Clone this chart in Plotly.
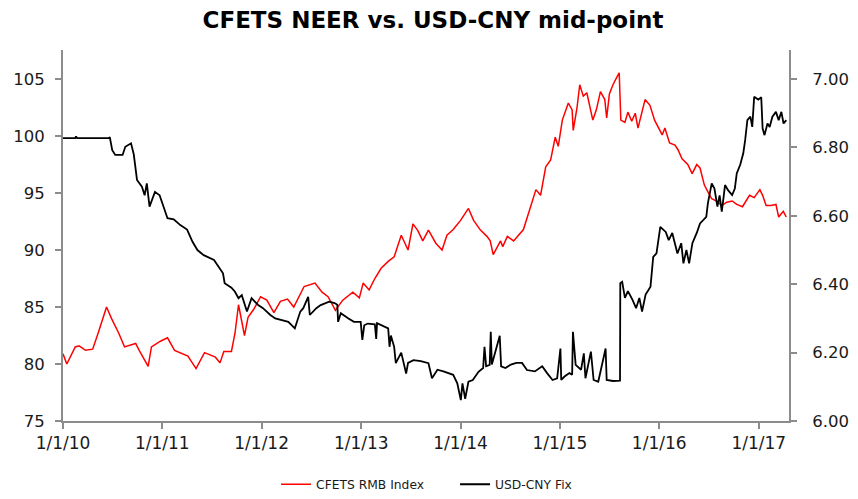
import plotly.graph_objects as go

# CFETS RMB Index (left axis)
cfets_dates = [
    "2010-01-01","2010-01-15","2010-02-15","2010-03-01","2010-03-25","2010-04-20","2010-05-10","2010-06-10",
    "2010-06-28","2010-07-25","2010-08-15","2010-09-25","2010-10-08","2010-11-10","2010-11-22","2010-12-25",
    "2011-01-20","2011-02-15","2011-04-05","2011-05-05","2011-06-05","2011-07-15","2011-08-01","2011-08-15",
    "2011-09-12","2011-09-25","2011-10-08","2011-10-30","2011-11-12","2011-12-03","2011-12-28","2012-01-20",
    "2012-02-15","2012-03-10","2012-04-05","2012-04-28","2012-06-05","2012-07-15","2012-08-10","2012-09-01",
    "2012-09-15","2012-09-28","2012-10-25","2012-12-01","2012-12-25","2013-01-08","2013-01-30","2013-02-20",
    "2013-03-15","2013-04-10","2013-05-02","2013-05-28","2013-06-22","2013-07-10","2013-07-28","2013-08-15",
    "2013-09-05","2013-10-02","2013-10-25","2013-11-12","2013-12-05","2014-01-01","2014-01-30","2014-02-18",
    "2014-03-15","2014-04-08","2014-04-20","2014-05-01","2014-05-28","2014-06-05","2014-06-22","2014-07-15",
    "2014-08-20","2014-09-10","2014-10-05","2014-10-22","2014-11-10","2014-11-28","2014-12-15","2014-12-26",
    "2015-01-10","2015-02-01","2015-02-15","2015-02-19","2015-03-05","2015-03-15","2015-03-28","2015-04-10",
    "2015-04-22","2015-05-02","2015-05-15","2015-05-30","2015-06-15","2015-06-22","2015-07-02","2015-07-15",
    "2015-07-28","2015-08-07","2015-08-13","2015-08-28","2015-09-08","2015-09-22","2015-10-05","2015-10-15",
    "2015-11-10","2015-11-28","2015-12-15","2016-01-12","2016-01-22","2016-02-08","2016-02-28","2016-03-10",
    "2016-03-25","2016-04-15","2016-05-01","2016-05-18","2016-05-30","2016-06-15","2016-06-28","2016-07-12",
    "2016-07-30","2016-08-18","2016-09-05","2016-09-25","2016-10-12","2016-11-02","2016-11-28","2016-12-15",
    "2017-01-05","2017-01-15","2017-01-28","2017-02-15","2017-03-05","2017-03-15","2017-04-01","2017-04-12",
]
cfets_values = [
    80.9, 80.0, 81.5, 81.6, 81.2, 81.3, 82.7, 85.0,
    84.0, 82.7, 81.5, 81.8, 81.2, 79.8, 81.5, 82.0,
    82.3, 81.2, 80.7, 79.6, 81.0, 80.6, 80.1, 81.1,
    81.1, 82.7, 85.2, 82.5, 84.1, 84.8, 85.9, 85.6,
    84.5, 85.5, 85.7, 85.0, 86.8, 87.1, 86.3, 85.9,
    85.3, 84.7, 85.6, 86.3, 85.8, 87.1, 86.5, 87.5,
    88.4, 89.0, 89.4, 91.3, 90.0, 92.3, 91.7, 90.8,
    91.75, 90.6, 90.0, 91.3, 91.8, 92.6, 93.65, 92.6,
    91.75, 91.2, 90.8, 89.6, 90.8, 90.3, 91.2, 90.8,
    91.8, 93.5, 95.3, 94.8, 97.3, 97.9, 99.9, 99.1,
    101.4, 102.9, 102.3, 100.5, 102.5, 104.5, 103.5, 103.8,
    102.6, 101.4, 102.3, 103.9, 103.2, 101.6, 103.7, 104.5,
    105.1, 105.55, 101.4, 101.2, 102.1, 101.3, 102.0, 100.7,
    103.2, 102.7, 101.4, 100.1, 100.7, 99.4, 99.2, 98.8,
    98.0, 97.5, 96.7, 97.5, 97.2, 95.7, 95.1, 94.5,
    94.3, 93.9, 94.2, 94.3, 94.0, 93.8, 94.8, 94.6,
    95.3, 94.8, 93.9, 93.9, 94.0, 92.9, 93.4, 92.9,
]

# USD-CNY fixing (right axis)
fix_dates = [
    "2010-01-01","2010-02-15","2010-02-18","2010-02-22","2010-06-18","2010-06-22","2010-07-01","2010-07-12",
    "2010-08-08","2010-08-18","2010-09-08","2010-09-18","2010-09-30","2010-10-18","2010-10-28","2010-11-05",
    "2010-11-15","2010-12-05","2010-12-22","2011-01-05","2011-01-20","2011-02-12","2011-03-08","2011-04-02",
    "2011-04-22","2011-05-10","2011-06-02","2011-07-10","2011-08-12","2011-08-18","2011-09-12","2011-09-25",
    "2011-10-08","2011-10-20","2011-11-08","2011-11-25","2011-12-18","2012-01-06","2012-02-02","2012-02-20",
    "2012-03-20","2012-04-08","2012-05-02","2012-05-22","2012-06-02","2012-06-20","2012-06-26","2012-07-20",
    "2012-08-05","2012-09-05","2012-09-25","2012-10-05","2012-10-08","2012-10-18","2012-11-15","2012-12-05",
    "2012-12-30","2013-01-05","2013-01-12","2013-01-25","2013-02-20","2013-02-25","2013-02-28","2013-03-15",
    "2013-04-10","2013-04-15","2013-04-20","2013-05-02","2013-05-08","2013-05-28","2013-06-15","2013-06-22",
    "2013-07-12","2013-08-08","2013-09-05","2013-09-18","2013-10-08","2013-10-30","2013-12-05","2013-12-20",
    "2014-01-02","2014-01-08","2014-01-18","2014-01-30","2014-02-15","2014-03-08","2014-03-25","2014-03-30",
    "2014-04-05","2014-04-18","2014-04-22","2014-04-26","2014-05-25","2014-05-30","2014-06-15","2014-07-05",
    "2014-07-25","2014-08-15","2014-09-02","2014-10-01","2014-10-28","2014-11-15","2014-12-05","2014-12-22",
    "2015-01-03","2015-01-06","2015-01-18","2015-02-05","2015-02-15","2015-02-18","2015-02-28","2015-03-20",
    "2015-03-30","2015-04-05","2015-04-25","2015-05-05","2015-05-22","2015-06-18","2015-06-22","2015-07-15",
    "2015-08-10","2015-08-11","2015-08-18","2015-08-28","2015-09-08","2015-09-25","2015-10-08","2015-10-20",
    "2015-10-30","2015-11-12","2015-11-30","2015-12-10","2015-12-22","2016-01-05","2016-01-25","2016-02-05",
    "2016-02-18","2016-03-08","2016-03-22","2016-03-30","2016-04-10","2016-04-20","2016-05-02","2016-05-18",
    "2016-05-30","2016-06-22","2016-06-28","2016-07-12","2016-07-22","2016-08-02","2016-08-10","2016-08-18",
    "2016-08-30","2016-09-10","2016-09-25","2016-10-05","2016-10-12","2016-10-25","2016-11-05","2016-11-12",
    "2016-11-20","2016-12-01","2016-12-08","2016-12-15","2016-12-30","2017-01-10","2017-01-15","2017-01-22",
    "2017-02-02","2017-02-10","2017-02-20","2017-03-05","2017-03-15","2017-03-25","2017-04-02","2017-04-12",
]
fix_values = [
    6.827, 6.827, 6.832, 6.827, 6.827, 6.830, 6.792, 6.778,
    6.778, 6.802, 6.812, 6.780, 6.705, 6.685, 6.660, 6.695,
    6.627, 6.670, 6.660, 6.627, 6.593, 6.590, 6.573, 6.560,
    6.524, 6.500, 6.485, 6.471, 6.432, 6.403, 6.390, 6.378,
    6.359, 6.368, 6.320, 6.359, 6.340, 6.330, 6.310, 6.300,
    6.293, 6.290, 6.271, 6.320, 6.330, 6.363, 6.310, 6.330,
    6.339, 6.349, 6.345, 6.340, 6.290, 6.315, 6.300, 6.290,
    6.290, 6.237, 6.280, 6.285, 6.283, 6.240, 6.286, 6.280,
    6.271, 6.217, 6.250, 6.217, 6.169, 6.200, 6.139, 6.170,
    6.178, 6.175, 6.169, 6.125, 6.150, 6.145, 6.135, 6.110,
    6.061, 6.110, 6.065, 6.115, 6.120, 6.144, 6.155, 6.217,
    6.160, 6.164, 6.261, 6.165, 6.249, 6.160, 6.155, 6.165,
    6.170, 6.170, 6.149, 6.145, 6.160, 6.140, 6.120, 6.125,
    6.212, 6.120, 6.130, 6.140, 6.135, 6.261, 6.164, 6.150,
    6.198, 6.125, 6.203, 6.120, 6.115, 6.212, 6.120, 6.117,
    6.118, 6.403, 6.407, 6.360, 6.380, 6.354, 6.330, 6.360,
    6.320, 6.370, 6.393, 6.480, 6.490, 6.568, 6.553, 6.529,
    6.550, 6.490, 6.520, 6.461, 6.500, 6.461, 6.520, 6.550,
    6.578, 6.597, 6.637, 6.695, 6.680, 6.627, 6.660, 6.612,
    6.690, 6.675, 6.661, 6.680, 6.724, 6.750, 6.783, 6.822,
    6.880, 6.890, 6.860, 6.948, 6.940, 6.947, 6.856, 6.836,
    6.870, 6.860, 6.890, 6.904, 6.880, 6.904, 6.870, 6.880,
]

x_tick_dates = ["2010-01-01","2011-01-01","2012-01-01","2013-01-01","2014-01-01","2015-01-01","2016-01-01","2017-01-01"]
x_tick_labels = ["1/1/10","1/1/11","1/1/12","1/1/13","1/1/14","1/1/15","1/1/16","1/1/17"]
left_ticks = [75, 80, 85, 90, 95, 100, 105]
right_ticks = [6.0, 6.2, 6.4, 6.6, 6.8, 7.0]
right_tick_labels = ["6.00", "6.20", "6.40", "6.60", "6.80", "7.00"]

axis_grey = "#8c8c8c"
y_tick_font = dict(family="DejaVu Sans", size=16.5, color="#1a1a1a")
x_tick_font = dict(family="DejaVu Sans", size=17, color="#1a1a1a")

fig = go.Figure()
fig.add_trace(go.Scatter(x=cfets_dates, y=cfets_values, mode="lines", name="CFETS RMB Index",
                         line=dict(color="#ff0000", width=1.5)))
fig.add_trace(go.Scatter(x=fix_dates, y=fix_values, mode="lines", name="USD-CNY Fix",
                         line=dict(color="#000000", width=1.8), yaxis="y2"))

fig.update_layout(
    width=850, height=491,
    paper_bgcolor="white", plot_bgcolor="white",
    margin=dict(l=55, r=69, t=42, b=78, autoexpand=False),
    title=dict(text="<b>CFETS NEER vs. USD-CNY mid-point</b>", x=0.5, xanchor="center",
               y=0.975, yanchor="middle",
               font=dict(family="DejaVu Sans", size=23, color="#000000")),
    xaxis=dict(type="date", range=["2010-01-01", "2017-04-22"], tickmode="array",
               tickvals=x_tick_dates, ticktext=x_tick_labels, showgrid=False,
               showline=True, linecolor=axis_grey, linewidth=2, ticks="outside",
               ticklen=6, tickcolor=axis_grey, tickwidth=2, tickfont=x_tick_font, zeroline=False),
    yaxis=dict(range=[75, 107.55], tickmode="array", tickvals=left_ticks, showgrid=False,
               showline=True, linecolor=axis_grey, linewidth=2, ticks="outside", ticklen=6,
               tickcolor=axis_grey, tickwidth=2, tickfont=y_tick_font, zeroline=False,
               ticklabelstandoff=7),
    yaxis2=dict(range=[6.0, 7.085], overlaying="y", side="right", tickmode="array",
                tickvals=right_ticks, ticktext=right_tick_labels, showgrid=False,
                showline=True, linecolor=axis_grey, linewidth=2, ticks="outside", ticklen=6,
                tickcolor=axis_grey, tickwidth=2, tickfont=y_tick_font, zeroline=False,
                ticklabelstandoff=12),
    legend=dict(orientation="h", x=0.54, xanchor="center", yref="container", y=0.03,
                yanchor="middle",
                font=dict(family="DejaVu Sans", size=12.3, color="#1a1a1a"),
                itemwidth=30, tracegroupgap=0, entrywidth=134),
    showlegend=True,
)

fig.write_html("out.html")
